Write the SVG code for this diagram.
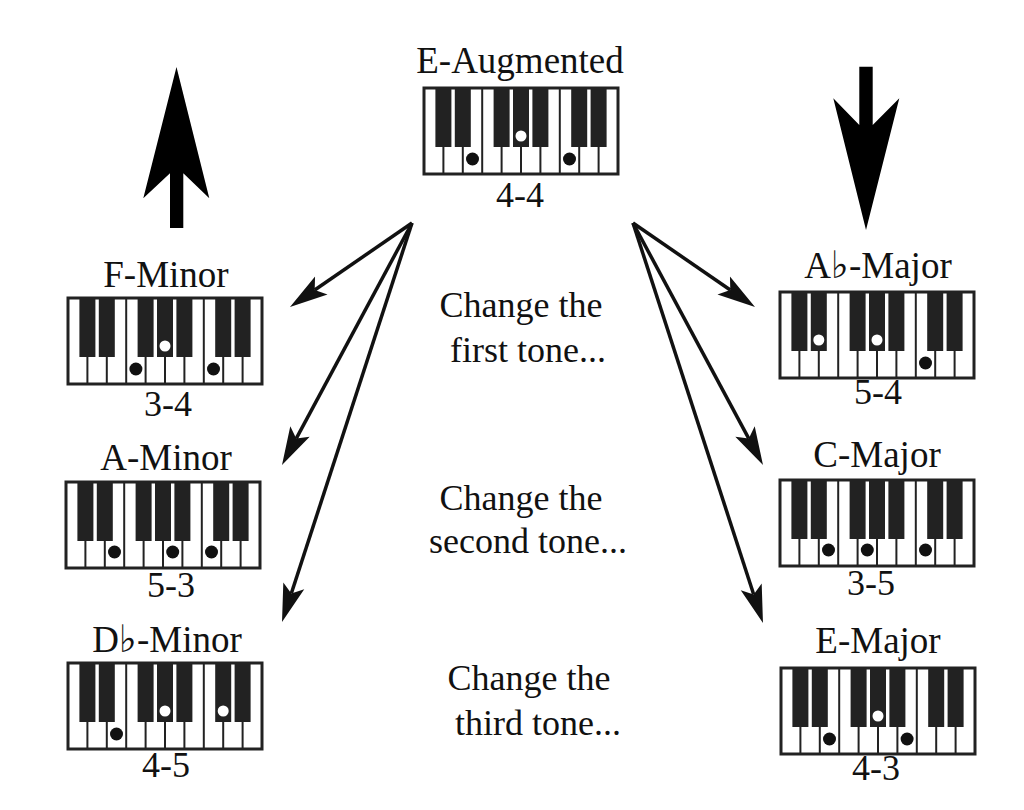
<svg xmlns="http://www.w3.org/2000/svg" xmlns:xlink="http://www.w3.org/1999/xlink" width="1024" height="810" viewBox="0 0 1024 810">
<style>
  text { font-family: "Liberation Serif", "Times New Roman", "DejaVu Serif", serif; fill: #111; text-anchor: middle; }
  .lbl { font-size: 37px; }
  .num { font-size: 36px; }
  .note { font-size: 36px; }
  .flat { font-family: "DejaVu Serif", "Noto Sans", serif; font-size: 38px; }
  .conn { stroke: #111; stroke-width: 3.5; fill: none; marker-end: url(#head); }
  .bd { fill: #111; }
  .wd { fill: #fff; }
  .big { fill: #000; }
</style>
<defs>
  <marker id="head" markerUnits="userSpaceOnUse" viewBox="-10 -12 42 24" markerWidth="42" markerHeight="24" refX="0" refY="0" orient="auto">
    <path d="M30,0 L-8,-11 L0,0 L-8,11 Z" fill="#111"/>
  </marker>
  <g id="kb">
    <rect x="0" y="0" width="194" height="86" fill="#fff"/>
    <g stroke="#222" stroke-width="2">
      <line x1="19.4" y1="0" x2="19.4" y2="86"/>
      <line x1="38.8" y1="0" x2="38.8" y2="86"/>
      <line x1="58.2" y1="0" x2="58.2" y2="86"/>
      <line x1="77.6" y1="0" x2="77.6" y2="86"/>
      <line x1="97" y1="0" x2="97" y2="86"/>
      <line x1="116.4" y1="0" x2="116.4" y2="86"/>
      <line x1="135.8" y1="0" x2="135.8" y2="86"/>
      <line x1="155.2" y1="0" x2="155.2" y2="86"/>
      <line x1="174.6" y1="0" x2="174.6" y2="86"/>
    </g>
    <g fill="#222">
      <rect x="11.4" y="0" width="16" height="59"/>
      <rect x="30.8" y="0" width="16" height="59"/>
      <rect x="69.6" y="0" width="16" height="59"/>
      <rect x="89" y="0" width="16" height="59"/>
      <rect x="108.4" y="0" width="16" height="59"/>
      <rect x="147.2" y="0" width="16" height="59"/>
      <rect x="166.6" y="0" width="16" height="59"/>
    </g>
    <rect x="0" y="0" width="194" height="86" fill="none" stroke="#222" stroke-width="3"/>
  </g>
</defs>
<rect x="0" y="0" width="1024" height="810" fill="#fff"/>

<g id="indicators">
  <polygon class="big" points="176.5,67 209.3,198.3 183.3,173.3 183.3,228 170,228 170,173.3 143.3,198.3"/>
  <polygon class="big" points="866,230 899.3,98.3 872.7,125 872.7,66.7 859.3,66.7 859.3,125 833.3,98.3"/>
</g>

<g id="connectors">
  <line class="conn" x1="412" y1="223" x2="314.7" y2="290"/>
  <line class="conn" x1="412" y1="223" x2="296.2" y2="438.6"/>
  <line class="conn" x1="412" y1="223" x2="291.3" y2="593.5"/>
  <line class="conn" x1="633" y1="223" x2="730.3" y2="290"/>
  <line class="conn" x1="633" y1="223" x2="748.8" y2="438.6"/>
  <line class="conn" x1="633" y1="223" x2="753.7" y2="594.5"/>
</g>

<g id="notes">
  <text class="note" x="521" y="317">Change the</text>
  <text class="note" x="528" y="362">first tone...</text>
  <text class="note" x="521" y="510">Change the</text>
  <text class="note" x="528" y="553">second tone...</text>
  <text class="note" x="529" y="690">Change the</text>
  <text class="note" x="538" y="735">third tone...</text>
</g>

<g id="node-e-augmented">
  <text class="lbl" x="520" y="73">E-Augmented</text>
  <use xlink:href="#kb" href="#kb" x="424" y="88"/>
  <circle class="bd" cx="472.5" cy="159" r="6.5"/>
  <circle class="wd" cx="521" cy="136" r="5.5"/>
  <circle class="bd" cx="569.5" cy="159" r="6.5"/>
  <text class="num" x="520" y="207">4-4</text>
</g>

<g id="node-f-minor">
  <text class="lbl" x="166" y="287">F-Minor</text>
  <use xlink:href="#kb" href="#kb" x="68" y="298"/>
  <circle class="bd" cx="135.9" cy="369" r="6.5"/>
  <circle class="wd" cx="165" cy="346" r="5.5"/>
  <circle class="bd" cx="213.5" cy="369" r="6.5"/>
  <text class="num" x="168" y="416">3-4</text>
</g>

<g id="node-a-minor">
  <text class="lbl" x="166" y="470">A-Minor</text>
  <use xlink:href="#kb" href="#kb" x="66" y="482"/>
  <circle class="bd" cx="114.5" cy="552" r="6.5"/>
  <circle class="bd" cx="172.7" cy="552" r="6.5"/>
  <circle class="bd" cx="211.5" cy="552" r="6.5"/>
  <text class="num" x="171" y="597">5-3</text>
</g>

<g id="node-db-minor">
  <text class="lbl" x="167" y="652">D<tspan class="flat">♭</tspan>-Minor</text>
  <use xlink:href="#kb" href="#kb" x="68" y="663"/>
  <circle class="bd" cx="116.5" cy="734" r="6.5"/>
  <circle class="wd" cx="165" cy="711" r="5.5"/>
  <circle class="wd" cx="223.2" cy="711" r="5.5"/>
  <text class="num" x="166" y="777">4-5</text>
</g>

<g id="node-ab-major">
  <text class="lbl" x="878" y="278">A<tspan class="flat">♭</tspan>-Major</text>
  <use xlink:href="#kb" href="#kb" x="780" y="292"/>
  <circle class="wd" cx="818.8" cy="340" r="5.5"/>
  <circle class="wd" cx="877" cy="340" r="5.5"/>
  <circle class="bd" cx="925.5" cy="363" r="6.5"/>
  <text class="num" x="878" y="404">5-4</text>
</g>

<g id="node-c-major">
  <text class="lbl" x="877" y="467">C-Major</text>
  <use xlink:href="#kb" href="#kb" x="780" y="480"/>
  <circle class="bd" cx="828.5" cy="550" r="6.5"/>
  <circle class="bd" cx="867.3" cy="550" r="6.5"/>
  <circle class="bd" cx="925.5" cy="550" r="6.5"/>
  <text class="num" x="871" y="595">3-5</text>
</g>

<g id="node-e-major">
  <text class="lbl" x="878" y="653">E-Major</text>
  <use xlink:href="#kb" href="#kb" x="781" y="668"/>
  <circle class="bd" cx="829.5" cy="739" r="6.5"/>
  <circle class="wd" cx="878" cy="716" r="5.5"/>
  <circle class="bd" cx="907.1" cy="739" r="6.5"/>
  <text class="num" x="876" y="780">4-3</text>
</g>
</svg>
